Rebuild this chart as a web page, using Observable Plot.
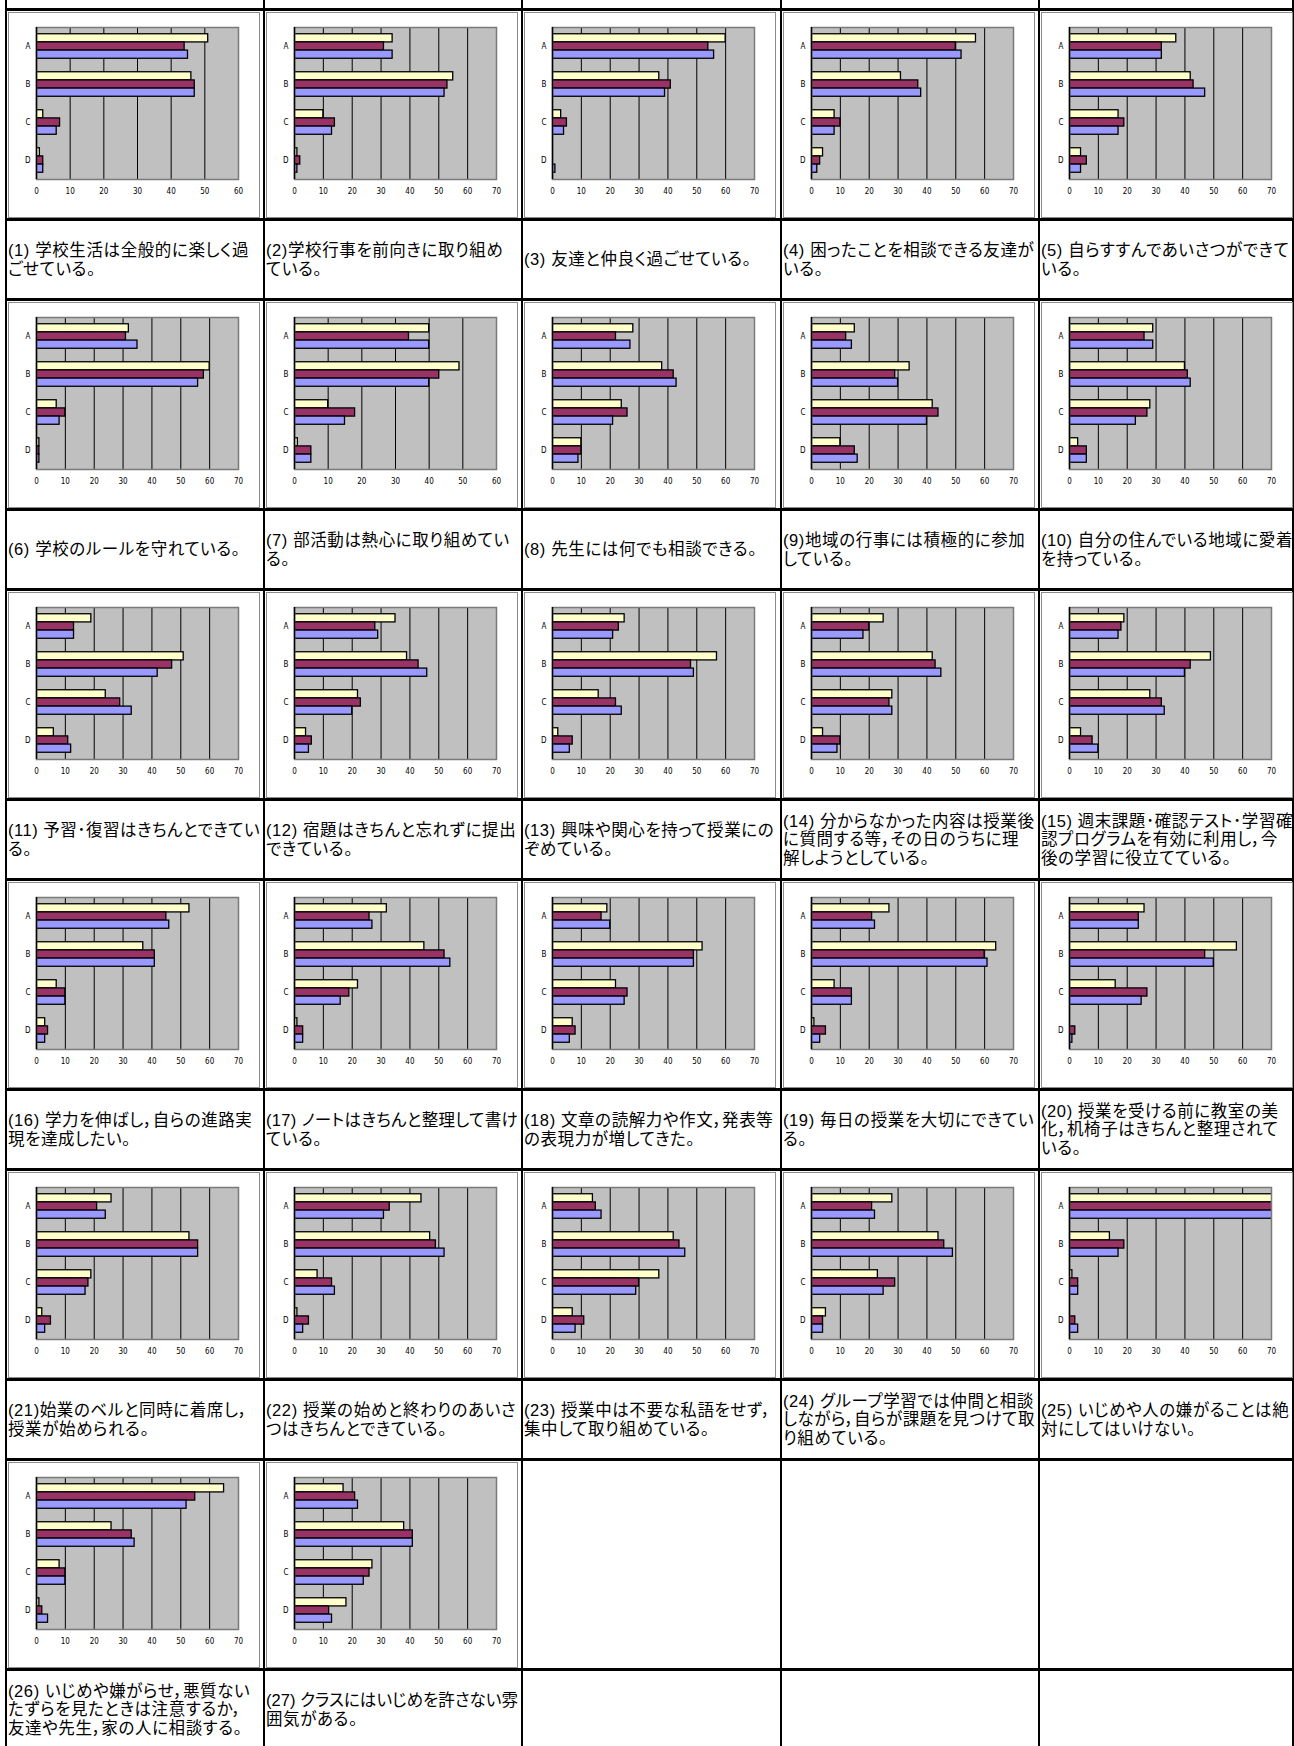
<!DOCTYPE html>
<html><head><meta charset="utf-8">
<script src="https://cdn.jsdelivr.net/npm/d3@7"></script>
<script src="https://cdn.jsdelivr.net/npm/@observablehq/plot@0.6"></script>
<style>
html,body{margin:0;padding:0;background:#fff;}
#page{position:relative;width:1294px;height:1746px;overflow:hidden;background:#fff;}
.vl{position:absolute;top:0;height:1746px;width:2px;background:#000;}
.hl{position:absolute;height:3px;background:#000;}
.chart{position:absolute;border:1px solid #8c8c8c;line-height:0;}
.cap{position:absolute;display:flex;flex-direction:column;justify-content:center;align-items:flex-start;font-family:"Liberation Sans","Noto Sans CJK JP",sans-serif;font-size:16.5px;line-height:18.5px;font-feature-settings:"palt";white-space:nowrap;color:#000;}
.cap span{display:inline-block;}
</style></head>
<body><div id="page"></div>
<script>
const categories = ["A", "B", "C", "D"];
const seriesColors = ["#ffffcc", "#993366", "#9999ff"];

// values per chart, in category order A, B, C, D
const yellowVals = [
  [51,46,2,1],[34,55,10,1],[60,37,3,0],[57,31,8,4],[37,42,17,4],
  [32,60,7,1],[40,49,10,1],[28,38,24,10],[15,34,42,10],[29,40,28,3],
  [19,51,24,6],[35,39,22,4],[25,57,16,2],[25,42,28,4],[19,49,28,4],
  [53,37,7,3],[32,45,22,1],[19,52,22,7],[27,64,8,1],[26,58,16,0],
  [26,53,19,2],[44,47,8,1],[14,42,37,7],[28,44,23,5],[78,14,1,0],
  [65,26,8,1],[17,38,27,18]
];
const purpleVals = [
  [44,47,7,2],[31,53,14,2],[54,41,5,0],[50,37,10,3],[32,43,19,6],
  [31,58,10,1],[34,43,18,5],[22,42,26,10],[12,29,44,15],[26,41,27,6],
  [13,47,29,11],[28,43,23,6],[23,48,22,7],[20,43,27,10],[18,42,32,8],
  [45,41,10,4],[26,52,19,3],[17,49,26,8],[21,60,14,5],[24,47,27,2],
  [21,56,18,5],[33,49,13,5],[15,44,30,11],[21,46,29,4],[77,19,3,2],
  [55,33,10,2],[21,41,26,12]
];
const blueVals = [
  [45,47,6,2],[34,52,13,1],[56,39,4,1],[52,38,8,2],[32,47,17,4],
  [35,56,8,1],[40,40,15,5],[27,43,21,9],[14,30,40,16],[29,42,23,6],
  [13,42,33,12],[29,46,20,5],[21,49,24,6],[18,45,28,9],[17,40,33,10],
  [46,41,10,3],[27,54,16,3],[20,49,25,6],[22,61,14,3],[24,50,25,1],
  [24,56,17,3],[31,52,14,3],[17,46,29,8],[22,49,25,4],[79,17,3,3],
  [52,34,10,4],[22,41,24,13]
];
const axisMax = [60,70,70,70,70, 70,60,70,70,70, 70,70,70,70,70, 70,70,70,70,70, 70,70,70,70,70, 70,70];
const ticks60 = [0,10,20,30,40,50,60];
const ticks70 = [0,10,20,30,40,50,60,70];

const captions = [
  ["(1) 学校生活は全般的に楽しく過", "ごせている。"],
  ["(2)学校行事を前向きに取り組め", "ている。"],
  ["(3) 友達と仲良く過ごせている。"],
  ["(4) 困ったことを相談できる友達が", "いる。"],
  ["(5) 自らすすんであいさつができて", "いる。"],
  ["(6) 学校のルールを守れている。"],
  ["(7) 部活動は熱心に取り組めてい", "る。"],
  ["(8) 先生には何でも相談できる。"],
  ["(9)地域の行事には積極的に参加", "している。"],
  ["(10) 自分の住んでいる地域に愛着", "を持っている。"],
  ["(11) 予習･復習はきちんとできてい", "る。"],
  ["(12) 宿題はきちんと忘れずに提出", "できている。"],
  ["(13) 興味や関心を持って授業にの", "ぞめている。"],
  ["(14) 分からなかった内容は授業後", "に質問する等，その日のうちに理", "解しようとしている。"],
  ["(15) 週末課題･確認テスト･学習確", "認プログラムを有効に利用し，今", "後の学習に役立てている。"],
  ["(16) 学力を伸ばし，自らの進路実", "現を達成したい。"],
  ["(17) ノートはきちんと整理して書け", "ている。"],
  ["(18) 文章の読解力や作文，発表等", "の表現力が増してきた。"],
  ["(19) 毎日の授業を大切にできてい", "る。"],
  ["(20) 授業を受ける前に教室の美", "化，机椅子はきちんと整理されて", "いる。"],
  ["(21)始業のベルと同時に着席し，", "授業が始められる。"],
  ["(22) 授業の始めと終わりのあいさ", "つはきちんとできている。"],
  ["(23) 授業中は不要な私語をせず，", "集中して取り組めている。"],
  ["(24) グループ学習では仲間と相談", "しながら，自らが課題を見つけて取", "り組めている。"],
  ["(25) いじめや人の嫌がることは絶", "対にしてはいけない。"],
  ["(26) いじめや嫌がらせ，悪質ない", "たずらを見たときは注意するか，", "友達や先生，家の人に相談する。"],
  ["(27) クラスにはいじめを許さない雰", "囲気がある。"]
];

// ---- layout ----
const page = document.getElementById("page");
const colX = [5, 263, 521, 780, 1038, 1292];
const rowTop = r => 8 + 290 * r;
const nRows = 6;
const capWidth = 252;
const baseSpacing = 0.6;

function el(cls, css) {
  const d = document.createElement("div");
  d.className = cls;
  Object.assign(d.style, css);
  page.appendChild(d);
  return d;
}

const W = 250, H = 204, mt = 14, mr = 21, mb = 38, ml = 27;

function makeChart(i) {
  const seriesVals = [yellowVals[i], purpleVals[i], blueVals[i]];
  const bw = (H - mt - mb) / categories.length;
  const bh = bw * 0.215;
  const inset = (bw - bh) / 2;
  const ticks = axisMax[i] === 60 ? ticks60 : ticks70;
  const barMarks = seriesVals.map((vals, k) => {
    const rows = categories.map((c, j) => ({cat: c, v: vals[j]})).filter(d => d.v > 0);
    return Plot.barX(rows, {
      x: "v", y: "cat", fill: seriesColors[k], stroke: "#000", strokeWidth: 1.3,
      insetTop: inset, insetBottom: inset, dy: (k - 1) * bh, clip: true
    });
  });
  return Plot.plot({
    width: W, height: H,
    marginTop: mt, marginRight: mr, marginBottom: mb, marginLeft: ml,
    x: {domain: [0, axisMax[i]], ticks: ticks, tickSize: 0, tickPadding: 9, label: null, tickFormat: d => String(d)},
    y: {domain: categories, padding: 0, tickSize: 0, tickPadding: 6, label: null},
    style: {fontSize: "8px", fontFamily: "'Liberation Sans Narrow', 'DejaVu Sans Condensed', 'Liberation Sans', sans-serif", background: "#fff", color: "#000", overflow: "visible"},
    marks: [
      Plot.frame({fill: "#c0c0c0", stroke: null}),
      Plot.ruleX(ticks, {stroke: "#000", strokeWidth: 1}),
      ...barMarks,
      Plot.frame({stroke: "#7a7a7a", strokeWidth: 1.5}),
      Plot.ruleX([0], {stroke: "#000", strokeWidth: 1.5})
    ]
  });
}

// vertical lines
colX.forEach(x => el("vl", {left: x + "px"}));
// horizontal lines
for (let r = 0; r < nRows; r++) {
  const t = rowTop(r);
  el("hl", {left: colX[0] + "px", width: (colX[5] - colX[0] + 2) + "px", top: t + "px"});
  el("hl", {left: colX[0] + "px", width: (colX[5] - colX[0] + 2) + "px", top: (t + 210) + "px"});
}

const lineSpans = [];
captions.forEach((lines, i) => {
  const r = Math.floor(i / 5), c = i % 5;
  const L = colX[c], T = rowTop(r);
  const box = el("chart", {left: (L + 3) + "px", top: (T + 4) + "px", width: W + "px", height: H + "px"});
  box.appendChild(makeChart(i));
  const cap = el("cap", {left: (L + 3) + "px", top: (T + 213) + "px", width: (capWidth + 2) + "px", height: "77px"});
  lines.forEach(line => {
    const s = document.createElement("span");
    s.textContent = line;
    s.style.letterSpacing = baseSpacing + "px";
    cap.appendChild(s);
    lineSpans.push(s);
  });
});

// keep every caption line inside its cell
lineSpans.forEach(s => {
  const w = s.getBoundingClientRect().width;
  if (w > capWidth) {
    const n = Array.from(s.textContent).length;
    s.style.letterSpacing = (baseSpacing - (w - capWidth) / n) + "px";
  }
});
</script>
</body></html>
